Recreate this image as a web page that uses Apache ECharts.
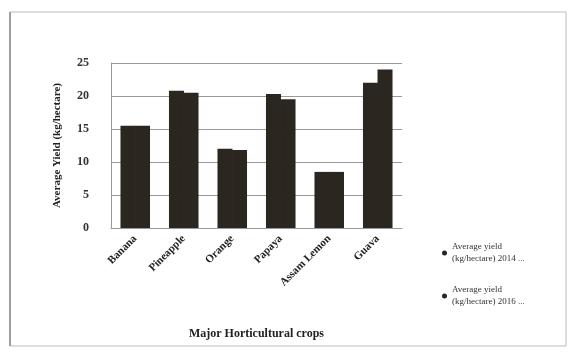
<!DOCTYPE html>
<html>
<head>
<meta charset="utf-8">
<script src="https://cdn.jsdelivr.net/npm/echarts@6/dist/echarts.min.js"></script>
<style>
  html, body { margin: 0; padding: 0; background: #fff; }
  #chart { width: 573px; height: 353px; }
</style>
</head>
<body>
<div id="chart"></div>
<script>
// crops and yields
const crops = ["Banana", "Pineapple", "Orange", "Papaya", "Assam Lemon", "Guava"];
const yield1 = [15.5, 20.8, 12, 20.3, 8.5, 22];
const yield2 = [15.5, 20.5, 11.8, 19.5, 8.5, 24];
const yTicks = [0, 5, 10, 15, 20, 25];
const seriesNames = ["Average yield\n(kg/hectare) 2014 ...", "Average yield\n(kg/hectare) 2016 ..."];

const serif = "Liberation Serif";
let chart = echarts.init(document.getElementById("chart"));

chart.setOption({
  animation: false,
  backgroundColor: "#fff",
  grid: { left: 111, right: 171, top: 63, bottom: 125 },
  legend: {
    orient: "vertical",
    left: 437,
    top: 236,
    itemGap: 19,
    icon: "circle",
    itemWidth: 5,
    itemHeight: 5,
    textStyle: { fontFamily: serif, fontSize: 9, color: "#333", lineHeight: 12 },
    data: seriesNames
  },
  graphic: [
    {
      type: "rect",
      shape: { x: 10, y: 12, width: 556, height: 334 },
      style: { fill: "none", stroke: "#bbb", lineWidth: 1 }
    },
    {
      type: "line",
      shape: { x1: 10, y1: 12, x2: 10, y2: 346 },
      style: { stroke: "#888", lineWidth: 1.5 }
    }
  ],
  xAxis: {
    type: "category",
    data: crops,
    name: "Major Horticultural crops",
    nameLocation: "middle",
    nameGap: 100,
    nameTextStyle: { fontFamily: serif, fontWeight: "bold", fontSize: 12, color: "#222" },
    axisLine: { show: true, lineStyle: { color: "#999" } },
    axisTick: { show: false },
    axisLabel: {
      rotate: 45,
      interval: 0,
      margin: 9,
      fontFamily: serif,
      fontWeight: "bold",
      fontSize: 11,
      color: "#222"
    }
  },
  yAxis: {
    type: "value",
    min: 0,
    max: 25,
    interval: 5,
    name: "Average Yield (kg/hectare)",
    nameLocation: "middle",
    nameGap: 48,
    nameTextStyle: { fontFamily: serif, fontWeight: "bold", fontSize: 11, color: "#222" },
    axisLine: { show: true, lineStyle: { color: "#999" } },
    axisTick: { show: false },
    axisLabel: {
      margin: 22,
      fontFamily: serif,
      fontWeight: "bold",
      fontSize: 12,
      color: "#333",
      formatter: v => (yTicks.includes(v) ? String(v) : "")
    },
    splitLine: { show: true, lineStyle: { color: "#999", width: 1.2 } }
  },
  series: [
    {
      name: seriesNames[0],
      type: "bar",
      data: yield1,
      barWidth: 15,
      barGap: "-3%",
      itemStyle: { color: "#2b2620" }
    },
    {
      name: seriesNames[1],
      type: "bar",
      data: yield2,
      barWidth: 15,
      itemStyle: { color: "#2b2620" }
    }
  ]
});
</script>
</body>
</html>
